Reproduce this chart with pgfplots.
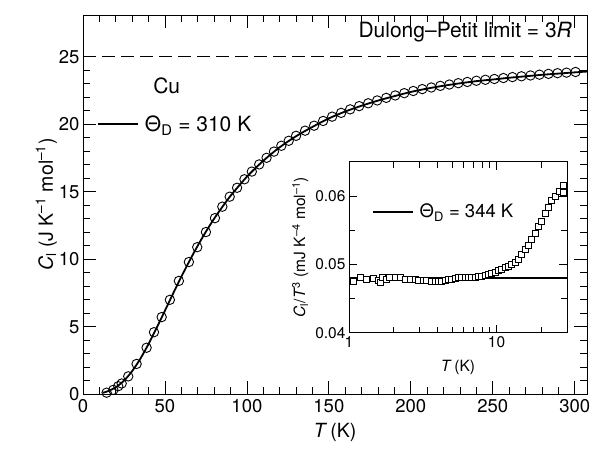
\documentclass[border=0pt]{standalone}
\usepackage{fontspec}
\setmainfont{TeX Gyre Heros}
\usepackage{pgfplots}
\pgfplotsset{compat=1.18}
\pgfplotsset{legline/.style={legend image code/.code={\draw[##1, line width=1.8pt] (0pt,0pt) -- (40pt,0pt);}}}

\newcommand{\fs}[1]{\fontsize{#1}{#1}\selectfont}

\begin{document}
\begin{tikzpicture}
\useasboundingbox (-83pt,-53.7pt) rectangle (513pt,394.3pt);

% main panel
\begin{axis}[
  at={(0pt,0pt)}, anchor=south west,
  scale only axis, width=504pt, height=379.3pt,
  xmin=0, xmax=307.5, ymin=0, ymax=28.1,
  xtick={0,50,...,300}, minor x tick num=4,
  ytick={0,5,...,25}, minor y tick num=4,
  tick align=inside, tick pos=both,
  major tick length=13pt, minor tick length=7pt,
  every tick/.style={black, line width=0.8pt},
  axis line style={line width=0.9pt},
  /pgf/number format/assume math mode=true,
  ticklabel style={font=\fs{18.5}},
  xticklabel style={yshift=-2pt},
  label style={font=\fs{19.5}},
  xlabel={\textit{T}\,(K)},
  xlabel style={yshift=-3pt},
  ylabel={\textit{C}\textsubscript{l} (J K\textsuperscript{–1} mol\textsuperscript{–1})},
  ylabel style={yshift=-5pt},
  legend style={draw=none, fill=none, inner sep=0pt, font=\fs{21},
                at={(axis cs:8.54,20)}, anchor=west},
]
\addplot[forget plot, line width=0.8pt, dash pattern=on 13pt off 6pt]
  coordinates {(0,25) (307.5,25)};
\addplot[forget plot, only marks, mark=o, mark size=4.7pt,
         mark options={line width=0.9pt}] coordinates {
 (14.4,0.12) (18.5,0.33) (21.5,0.6) (23.6,0.8) (27.6,1.33) (32.7,2.25)
 (38.8,3.45) (43.3,4.6) (48,5.72) (53,7.0) (58.5,8.4) (64.6,9.8)
 (69.7,10.9) (75,12.02) (80.5,13.05) (85,13.9) (89.5,14.64) (94,15.3)
 (98.5,15.93) (103,16.5) (107.5,17.03) (112,17.52) (116.5,17.98)
 (121,18.41) (125.5,18.78) (130,19.15) (135.5,19.53) (141,19.9)
 (146.5,20.25) (152,20.57) (157.5,20.85) (163,21.11) (168.5,21.35)
 (174,21.56) (179.5,21.77) (185,21.96) (190.5,22.14) (196,22.31)
 (201.5,22.47) (207,22.61) (212.5,22.73) (218,22.85) (223.5,22.95)
 (229,23.05) (234.5,23.14) (240,23.23) (245.5,23.3) (251,23.36)
 (256.5,23.43) (262,23.5) (267.5,23.56) (273,23.62) (278.5,23.68)
 (284,23.74) (289.5,23.79) (295,23.83) (300.5,23.88)};
\addplot[black, line width=1.8pt, smooth, no marks, legline]
  coordinates {
 (12,0.11) (15,0.22) (20,0.52) (25,1.01) (30,1.72) (35,2.64) (40,3.73)
 (45,4.94) (50,6.20) (55,7.47) (60,8.71) (65,9.89) (70,11.01) (75,12.05)
 (80,13.01) (85,13.88) (90,14.70) (100,16.12) (110,17.30) (120,18.30)
 (130,19.12) (140,19.81) (150,20.44) (160,20.95) (170,21.38) (180,21.76)
 (190,22.09) (200,22.40) (210,22.65) (220,22.86) (230,23.04) (240,23.20)
 (250,23.32) (260,23.45) (270,23.56) (280,23.67) (290,23.76) (300,23.85)
 (307.5,23.91)};
\addlegendentry{\hspace{4pt}Θ\textsubscript{D} = 310 K}
\node[font=\fs{21}, anchor=base, inner sep=0pt] at (axis cs:51.1,22.26) {Cu};
\node[font=\fs{21}, anchor=base east, inner sep=0pt] at (axis cs:298.4,26.44)
  {Dulong–Petit limit = 3\textit{R}};
\end{axis}

% inset
\begin{axis}[
  at={(266pt,61.6pt)}, anchor=south west,
  scale only axis, width=218pt, height=171pt,
  xmode=log, xmin=1, xmax=30, ymin=0.04, ymax=0.065,
  scaled y ticks=false,
  xtick={1,10}, xticklabels={1,10},
  minor xtick={2,3,4,5,6,7,8,9,20,30},
  ytick={0.04,0.05,0.06}, yticklabels={0.04,0.05,0.06},
  minor ytick={0.045,0.055},
  tick align=inside, tick pos=both,
  major tick length=8pt, minor tick length=6pt,
  every tick/.style={black, line width=0.8pt},
  axis line style={line width=0.9pt},
  ticklabel style={font=\fs{15.5}},
  label style={font=\fs{15.5}},
  xlabel={\textit{T}\,(K)},
  xlabel style={yshift=-6pt},
  ylabel={\textit{C}\textsubscript{l}/\textit{T}\textsuperscript{3} (mJ K\textsuperscript{–4} mol\textsuperscript{–1})},
  legend style={draw=none, fill=none, inner sep=0pt, font=\fs{18.5},
                at={(axis cs:1.424,0.0577)}, anchor=west},
]
\addplot[black, line width=1.6pt, no marks, legline]
  coordinates {(1,0.048) (30,0.048)};
\addlegendentry{\hspace{4pt}Θ\textsubscript{D} = 344 K}
\addplot[only marks, mark=square*, mark size=3pt,
         mark options={fill=white, draw=black, line width=0.6pt}] coordinates {
 (1.07,0.04756) (1.20,0.04805) (1.32,0.0478) (1.45,0.0479) (1.58,0.0477)
 (1.62,0.0473) (1.69,0.04805) (1.78,0.0478) (1.88,0.04805) (2.05,0.04805)
 (2.21,0.04805) (2.39,0.0478) (2.59,0.0478) (2.80,0.0478) (2.95,0.0477)
 (3.19,0.0477) (3.36,0.0477) (3.63,0.04756) (3.82,0.04756) (4.02,0.04756)
 (4.24,0.04756) (4.47,0.0477) (4.70,0.0478) (4.95,0.0478) (5.22,0.0479)
 (5.50,0.04805) (5.79,0.04805) (6.10,0.04805) (6.43,0.04805) (6.77,0.04805)
 (7.13,0.04805) (7.51,0.0482) (7.91,0.0483) (8.33,0.0484) (8.77,0.04854)
 (9.25,0.04868) (9.73,0.04888) (10.26,0.04907) (10.81,0.04927)
 (11.38,0.0495) (11.99,0.04976) (12.63,0.0500) (13.30,0.0503)
 (14.01,0.0508) (14.76,0.0515) (15.55,0.0522) (16.38,0.0528)
 (17.26,0.0537) (18.18,0.0545) (19.15,0.0555) (20.17,0.0563)
 (21.24,0.0574) (22.37,0.0583) (23.57,0.0593) (24.83,0.0600)
 (26.55,0.0607) (28.24,0.0615) (28.24,0.0606)};
\end{axis}
\end{tikzpicture}
\end{document}
